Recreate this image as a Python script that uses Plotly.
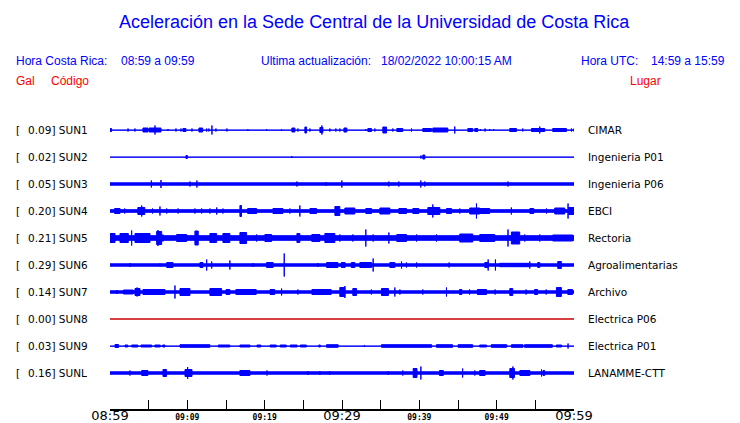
import plotly.graph_objects as go

# ---------------- data ----------------
CODES = ["SUN1", "SUN2", "SUN3", "SUN4", "SUN5", "SUN6", "SUN7", "SUN8", "SUN9", "SUNL"]
PLACES = ["CIMAR", "Ingenieria P01", "Ingenieria P06", "EBCI", "Rectoria",
          "Agroalimentarias", "Archivo", "Electrica P06", "Electrica P01", "LANAMME-CTT"]
PEAK_GAL = [0.09, 0.02, 0.05, 0.20, 0.21, 0.29, 0.14, 0.00, 0.03, 0.16]

# time axis: minutes after 08:59 (Costa Rica time)
TICK_MIN = [0, 5, 10, 15, 20, 25, 30, 35, 40, 45, 50, 55, 60]
TICK_LABELS = ["08:59", "", "09:09", "", "09:19", "", "09:29", "", "09:39", "", "09:49", "", "09:59"]
MAJOR_LABELS = ["08:59", "09:29", "09:59"]

# background noise half-amplitude of each trace (display units)
BASE_AMP = [0.65, 0.65, 1.7, 1.8, 2.8, 1.7, 1.7, 0.0, 0.65, 1.7]

# bursts per trace: [start minute, end minute, half-amplitude]
SUN1_EV = [[0.0, 0.2, 2], [2.33, 2.33, 2], [3.23, 3.23, 2], [4.26, 4.91, 2.5], [5.04, 6.59, 2.5],
           [5.82, 5.82, 5], [7.5, 7.5, 1.5], [8.53, 8.53, 2], [9.18, 9.18, 2], [9.43, 9.82, 2],
           [10.6, 10.6, 2], [11.5, 11.98, 2.5], [12.5, 12.5, 2], [12.79, 12.79, 2], [13.18, 13.18, 5],
           [13.7, 13.7, 2], [15.12, 15.12, 2], [17.83, 17.83, 1.2], [20.25, 20.25, 1.2],
           [22.19, 22.19, 1.2], [23.52, 23.91, 2.5], [24.3, 24.3, 2], [25.2, 25.42, 3.5],
           [25.85, 25.85, 2], [27.14, 27.53, 3], [27.4, 27.4, 5], [28.43, 28.43, 2], [29.21, 29.21, 2],
           [29.72, 29.72, 2], [30.25, 30.63, 2.5], [33.08, 33.08, 1.5], [33.34, 33.82, 2],
           [34.25, 34.25, 2], [35.28, 35.76, 3.5], [36.57, 36.57, 2], [37.09, 37.86, 2],
           [38.99, 38.99, 2], [40.45, 41.57, 2], [41.74, 43.68, 2.5], [44.58, 44.58, 4],
           [46.27, 46.91, 2], [47.17, 47.56, 2], [47.9, 47.9, 1.5], [48.5, 48.5, 2], [49.1, 49.1, 1.5],
           [49.6, 49.6, 1.5], [51.69, 52.56, 2], [53.37, 53.37, 2], [54.5, 56.22, 2], [55.57, 55.57, 4],
           [57.25, 59.02, 2], [59.67, 59.67, 2], [59.9, 60.0, 1.5]]
SUN2_EV = [[9.82, 10.0, 2], [23.5, 23.5, 1.5], [40.2, 40.2, 2], [40.45, 40.71, 2.5]]
SUN3_EV = [[5.35, 5.35, 4], [6.59, 6.59, 4.5], [10.34, 10.34, 3], [11.24, 11.24, 4],
           [24.17, 24.17, 3], [27.9, 27.9, 2.5], [29.98, 29.98, 4], [36.06, 36.06, 3],
           [37.35, 37.35, 3], [40.19, 40.19, 4], [40.71, 40.71, 3], [51.47, 51.47, 3]]
SUN4_EV = [[0.6, 1.3, 3], [1.9, 1.9, 3], [3.6, 4.5, 4], [4.1, 4.1, 6], [5.5, 5.5, 3], [6.46, 6.46, 5],
           [7.33, 7.33, 3], [8.8, 8.8, 3], [10.98, 10.98, 3], [11.85, 11.85, 3], [12.92, 12.92, 3],
           [13.8, 13.8, 4], [14.6, 14.6, 3], [16.8, 17.0, 6], [17.8, 18.96, 3], [21.07, 22.36, 3],
           [23.26, 23.26, 3], [24.55, 24.55, 6], [25.85, 26.71, 3], [29.08, 29.72, 5],
           [30.37, 31.66, 3.5], [33.08, 33.82, 3], [34.9, 36.19, 3.5], [37.35, 38.34, 3],
           [39.16, 39.93, 3], [41.1, 42.65, 4], [41.74, 41.74, 7], [43.51, 44.16, 3],
           [45.23, 45.23, 3], [46.52, 47.82, 3.5], [47.39, 47.39, 8], [47.8, 49.1, 3],
           [51.9, 51.9, 4], [54.3, 54.8, 3], [56.44, 56.44, 3], [57.51, 58.8, 3.5],
           [59.23, 59.23, 8], [59.3, 60.0, 4]]
SUN5_EV = [[0.0, 0.65, 5], [1.29, 2.37, 5], [2.8, 2.8, 8], [3.23, 5.17, 5], [6.03, 6.68, 7],
           [6.2, 6.2, 8.5], [6.85, 6.85, 4], [8.62, 9.91, 4], [10.98, 11.41, 7.5], [12.92, 13.79, 5],
           [14.6, 15.5, 5], [16.8, 17.66, 6], [18.96, 18.96, 4], [20.03, 20.9, 4], [24.17, 24.55, 5],
           [26.1, 27.14, 4], [27.78, 29.08, 5], [29.72, 29.72, 4], [31.4, 31.4, 4], [33.08, 33.08, 9],
           [34.03, 34.03, 4], [36.06, 36.06, 6], [37.09, 38.34, 4], [39.64, 39.64, 4],
           [42.22, 42.22, 4], [45.23, 46.91, 4.5], [47.82, 49.75, 4], [51.47, 51.47, 9],
           [51.9, 52.98, 6.5], [53.63, 53.63, 4], [55.57, 55.57, 4], [57.25, 59.83, 3.5]]
SUN6_EV = [[2.58, 2.58, 2.5], [6.46, 6.46, 2], [7.33, 8.14, 3], [11.63, 12.02, 3], [12.5, 12.5, 6],
           [13.15, 13.15, 4], [15.5, 15.5, 5], [18.5, 18.5, 2.5], [20.25, 21.1, 3], [22.53, 22.53, 12],
           [26.88, 26.88, 2.5], [28.01, 29.47, 3], [29.9, 30.4, 3], [31.2, 31.66, 3], [32.31, 33.82, 3],
           [34.03, 34.03, 7], [36.19, 36.83, 3], [37.7, 37.7, 4], [38.34, 38.34, 3], [39.64, 39.64, 3],
           [43.85, 43.85, 3], [48.46, 48.89, 3], [48.9, 48.9, 6], [49.84, 49.84, 6],
           [50.4, 54.28, 2.2], [54.28, 54.28, 4], [55.31, 55.57, 3], [57.9, 58.37, 4]]
SUN7_EV = [[0.9, 0.9, 2.5], [1.73, 3.0, 2.5], [3.23, 3.88, 4], [3.5, 3.5, 5], [4.26, 7.11, 3],
           [8.4, 8.4, 7], [9.05, 10.34, 4], [12.92, 14.43, 4], [15.0, 15.5, 3], [16.28, 18.9, 3],
           [20.7, 21.3, 3], [22.19, 22.19, 4], [24.3, 24.3, 3], [26.11, 28.6, 3], [29.72, 30.37, 5],
           [30.37, 30.37, 6.5], [31.4, 31.88, 4], [33.8, 33.8, 3], [35.1, 36.0, 4], [36.83, 36.83, 5],
           [37.48, 37.48, 3], [40.45, 40.45, 3], [43.51, 43.51, 5], [45.2, 45.5, 3], [46.5, 46.5, 3],
           [47.5, 48.7, 3], [49.8, 49.8, 3], [51.7, 52.08, 4], [53.8, 53.8, 3], [54.9, 55.3, 3],
           [56.4, 56.4, 3], [57.73, 58.37, 5], [59.2, 59.8, 3]]
SUN8_EV = []
SUN9_EV = [[0.65, 1.1, 2], [1.94, 2.3, 1.5], [2.8, 3.6, 1.5], [4.0, 5.4, 1.5], [5.8, 6.5, 1.5],
           [6.8, 7.1, 1.5], [9.05, 12.92, 1.8], [14.0, 15.5, 1.5], [16.8, 18.1, 1.5], [19.0, 19.5, 1.5],
           [20.7, 21.5, 1.5], [22.0, 22.8, 1.5], [23.3, 24.2, 1.5], [24.6, 25.4, 1.5], [27.0, 27.2, 1.5],
           [28.0, 29.5, 1.8], [32.9, 32.9, 1.5], [35.1, 41.6, 1.8], [42.2, 44.3, 1.8], [45.0, 46.9, 1.8],
           [47.8, 48.7, 1.5], [49.3, 51.3, 1.8], [51.9, 53.4, 1.8], [53.6, 57.2, 1.8], [57.7, 58.4, 1.5],
           [59.23, 59.23, 3]]
SUNL_EV = [[2.58, 2.58, 3], [4.1, 4.9, 3], [6.85, 7.3, 4], [9.7, 10.6, 4], [10.04, 10.04, 6.5],
           [16.8, 18.1, 3], [20.3, 20.3, 3], [25.6, 25.6, 2.5], [27.14, 27.14, 2.5], [28.4, 28.4, 2.5],
           [36.0, 36.0, 2.5], [37.86, 37.86, 3], [39.2, 39.7, 5], [40.2, 40.2, 7], [42.6, 43.1, 3],
           [45.6, 45.6, 5], [47.17, 47.17, 3], [47.8, 48.5, 3], [51.7, 52.3, 5], [52.1, 52.1, 7],
           [53.0, 54.3, 3], [55.8, 55.8, 4], [56.0, 56.2, 3]]
EVENTS = [SUN1_EV, SUN2_EV, SUN3_EV, SUN4_EV, SUN5_EV, SUN6_EV, SUN7_EV, SUN8_EV, SUN9_EV, SUNL_EV]

TITLE = "Aceleración en la Sede Central de la Universidad de Costa Rica"

# ---------------- styling ----------------
BLUE = "#0000ff"
RED = "#ff0000"
TRACE_COLORS = [BLUE] * 7 + ["#c80000"] + [BLUE] * 2
SPACING = 27
PAGE_OFF = 8                      # default body margin of the html page
W, H = 740 - PAGE_OFF, 423 - PAGE_OFF
L, T = 110 - PAGE_OFF, 110 - PAGE_OFF
R, B = 740 - 574.4, 423 - 409
PW, PH = W - L - R, H - T - B
Y_TOP, Y_BOT = 20, -279


def px_x(p):
    return (p - PAGE_OFF - L) / PW


def px_y(p):
    return (H - B - (p - PAGE_OFF)) / PH


fig = go.Figure()
for i, ev in enumerate(EVENTS):
    off = -i * SPACING
    color = TRACE_COLORS[i]
    if BASE_AMP[i] <= 0:
        fig.add_trace(go.Scatter(x=[0, 60], y=[off, off], mode="lines",
                                 line=dict(color=color, width=1.3), hoverinfo="skip",
                                 showlegend=False))
        continue
    xs, ys = [], []
    rects = [[0, 60, BASE_AMP[i]]] + ev
    for t0, t1, a in rects:
        h = max(a - 0.5, 0.05)
        xs += [t0, t1, t1, t0, t0, None]
        ys += [off - h, off - h, off + h, off + h, off - h, None]
    fig.add_trace(go.Scatter(x=xs, y=ys, mode="lines", fill="toself", fillcolor=color,
                             line=dict(color=color, width=1), hoverinfo="skip",
                             showlegend=False, connectgaps=False))

ann = []
LABEL_FONT = dict(family="DejaVu Sans", size=10.5, color="black")
for i in range(len(CODES)):
    off = -i * SPACING
    ann.append(dict(x=px_x(14), y=off, xref="paper", yref="y", text="[", showarrow=False,
                    xanchor="left", yanchor="middle", font=LABEL_FONT))
    ann.append(dict(x=px_x(26), y=off, xref="paper", yref="y",
                    text=f"{PEAK_GAL[i]:.2f}] {CODES[i]}", showarrow=False,
                    xanchor="left", yanchor="middle", font=LABEL_FONT))
    ann.append(dict(x=px_x(586.5), y=off, xref="paper", yref="y", text=PLACES[i],
                    showarrow=False, xanchor="left", yanchor="middle", font=LABEL_FONT))

HEAD_FONT = dict(family="Liberation Sans", size=12, color=BLUE)
RED_FONT = dict(family="Liberation Sans", size=12, color=RED)
ann.append(dict(x=px_x(375), y=px_y(22), xref="paper", yref="paper", text=TITLE, showarrow=False,
                xanchor="center", yanchor="middle",
                font=dict(family="Liberation Sans", size=18, color=BLUE)))
for txt, xp in [("Hora Costa Rica:", 14), ("08:59 a 09:59", 119), ("Ultima actualización:", 259),
                ("18/02/2022 10:00:15 AM", 379), ("Hora UTC:", 579), ("14:59 a 15:59", 649)]:
    ann.append(dict(x=px_x(xp), y=px_y(61), xref="paper", yref="paper", text=txt, showarrow=False,
                    xanchor="left", yanchor="middle", font=HEAD_FONT))
for txt, xp in [("Gal", 14), ("Código", 49), ("Lugar", 628)]:
    ann.append(dict(x=px_x(xp), y=px_y(81), xref="paper", yref="paper", text=txt, showarrow=False,
                    xanchor="left", yanchor="middle", font=RED_FONT))

ticktext = []
for lab in TICK_LABELS:
    if lab == "" or lab in MAJOR_LABELS:
        ticktext.append(lab)
    else:
        ticktext.append('<span style="font-size:8px;font-family:\'DejaVu Sans Mono\';'
                        'font-weight:bold">' + lab + '</span>')

fig.update_layout(
    width=W, height=H, margin=dict(l=L, r=R, t=T, b=B, autoexpand=False),
    paper_bgcolor="white", plot_bgcolor="white",
    annotations=ann,
    xaxis=dict(range=[0, 60], tickmode="array", tickvals=TICK_MIN, ticktext=ticktext,
               ticks="inside", ticklen=9, tickwidth=1.3, tickcolor="black",
               showline=True, linecolor="black", linewidth=1.5, showgrid=False, zeroline=False,
               automargin=False,
               tickfont=dict(family="DejaVu Sans", size=13, color="black"), ticklabelstandoff=-6),
    yaxis=dict(range=[Y_BOT, Y_TOP], visible=False, showgrid=False, zeroline=False,
               automargin=False),
)

fig.write_html("out.html")
